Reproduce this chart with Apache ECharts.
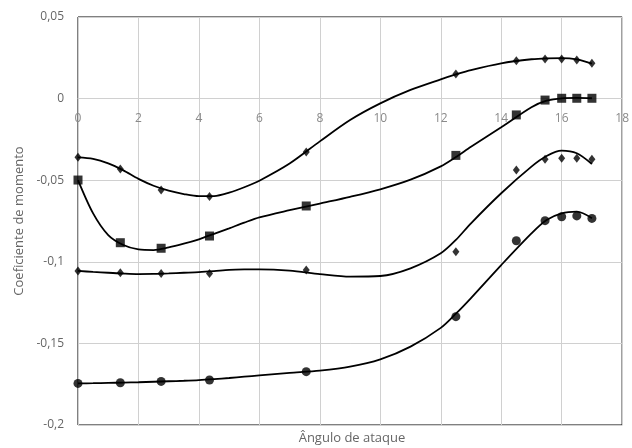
<!DOCTYPE html>
<html>
<head>
<meta charset="utf-8">
<script src="https://cdn.jsdelivr.net/npm/echarts@6/dist/echarts.min.js"></script>
<style>
  html, body { margin: 0; padding: 0; background: #fff; }
  #chart { width: 632px; height: 448px; }
</style>
</head>
<body>
<div id="chart"></div>
<script>
// ângulos medidos (pontos)
const angles = [0, 1.4, 2.75, 4.35, 7.55, 12.5, 14.5, 15.45, 16, 16.5, 17];
const cmDiamondTop = [-0.036, -0.0432, -0.056, -0.060, -0.0327, 0.0151, 0.0232, 0.0243, 0.0243, 0.0237, 0.0216];
const cmSquare = [-0.0499, -0.0883, -0.0917, -0.0842, -0.0658, -0.0348, -0.0100, -0.0009, 0.0002, 0.0002, 0.0002];
const cmDiamondMid = [-0.1056, -0.1067, -0.1071, -0.1071, -0.105, -0.0938, -0.0437, -0.0372, -0.0366, -0.0366, -0.0372];
const cmCircle = [-0.1745, -0.1741, -0.1733, -0.1724, -0.1673, -0.1336, -0.0871, -0.0748, -0.0724, -0.0719, -0.0734];

// linhas de tendência
const fitX = [0, 0.5, 1, 1.5, 2, 2.5, 3, 3.5, 4, 4.5, 5, 5.5, 6, 7, 8, 9, 10, 11, 12, 12.5, 13, 14, 15, 15.5, 16, 16.5, 17];
const fitDiamondTop = [-0.036, -0.0369, -0.0397, -0.044, -0.0492, -0.0534, -0.0564, -0.0585, -0.0598, -0.0597, -0.0576, -0.0543, -0.0503, -0.0398, -0.0262, -0.0131, -0.0029, 0.0053, 0.0118, 0.0148, 0.0175, 0.0216, 0.0241, 0.0247, 0.0248, 0.024, 0.0214];
const fitSquare = [-0.0499, -0.0703, -0.0836, -0.0897, -0.0924, -0.0928, -0.0912, -0.0889, -0.0862, -0.0829, -0.0795, -0.076, -0.0728, -0.0684, -0.0643, -0.0602, -0.0556, -0.0497, -0.0415, -0.0358, -0.0295, -0.0176, -0.0053, -0.0013, 0.0002, 0.0004, 0.0002];
const fitDiamondMid = [-0.1056, -0.1062, -0.1067, -0.1072, -0.1075, -0.1074, -0.1071, -0.1067, -0.1063, -0.1057, -0.105, -0.1047, -0.1046, -0.1054, -0.1075, -0.1091, -0.1087, -0.104, -0.0948, -0.0866, -0.0764, -0.058, -0.0417, -0.0352, -0.0319, -0.0335, -0.0401];
const fitCircle = [-0.1745, -0.1744, -0.1742, -0.174, -0.1738, -0.1735, -0.1732, -0.1729, -0.1725, -0.1719, -0.1712, -0.1704, -0.1696, -0.1681, -0.1667, -0.1643, -0.1598, -0.152, -0.1405, -0.1318, -0.1222, -0.102, -0.0826, -0.0744, -0.0703, -0.0693, -0.0733];

const xTitle = 'Ângulo de ataque';
const yTitle = 'Coeficiente de momento';

const pair = (xs, ys) => xs.map((x, i) => [x, ys[i]]);
const fmt = v => String(+v.toFixed(2)).replace('.', ',');

const chart = echarts.init(document.getElementById('chart'));

function fitSeries(ys) {
  return {
    type: 'line',
    data: pair(fitX, ys),
    smooth: 0.3,
    showSymbol: false,
    lineStyle: { color: '#000', width: 1.8 },
    z: 2,
    silent: true
  };
}

function pointSeries(ys, symbol, size) {
  return {
    type: 'scatter',
    data: pair(angles, ys),
    symbol: symbol,
    symbolSize: size,
    itemStyle: { color: '#000' },
    z: 3
  };
}

// grid: top 17, altura 408 -> y=0 fica a 81.6px do topo, 326.4px acima da base
const option = {
  animation: false,
  backgroundColor: '#fff',
  textStyle: { fontFamily: 'Open Sans' },
  grid: {
    left: 78, right: 5, top: 17, bottom: 23,
    show: true, borderColor: '#000', borderWidth: 1
  },
  xAxis: {
    type: 'value',
    min: 0, max: 18, interval: 2,
    offset: -326.4,
    axisLine: { onZero: false, show: true, lineStyle: { color: '#d0d0d0' } },
    axisTick: { show: false },
    axisLabel: { color: '#8a8a8a', fontSize: 12, margin: 14 },
    splitLine: { lineStyle: { color: '#d0d0d0' } }
  },
  yAxis: {
    type: 'value',
    min: -0.2, max: 0.05, interval: 0.05,
    name: yTitle,
    nameLocation: 'middle',
    nameGap: 50,
    nameTextStyle: { color: '#666', fontSize: 13 },
    axisLine: { show: false },
    axisTick: { show: false },
    axisLabel: { color: '#666', fontSize: 12, margin: 14, formatter: fmt },
    splitLine: { lineStyle: { color: '#d0d0d0' } }
  },
  graphic: [{
    type: 'text',
    x: 352,
    y: 438,
    style: {
      text: xTitle, fill: '#666', font: '13px "Open Sans"',
      textAlign: 'center', textVerticalAlign: 'middle'
    }
  }],
  series: [
    fitSeries(fitDiamondTop),
    fitSeries(fitSquare),
    fitSeries(fitDiamondMid),
    fitSeries(fitCircle),
    pointSeries(cmDiamondTop, 'diamond', [7, 9]),
    pointSeries(cmSquare, 'rect', 9),
    pointSeries(cmDiamondMid, 'diamond', [7, 9]),
    pointSeries(cmCircle, 'circle', 9)
  ]
};

chart.setOption(option);
</script>
</body>
</html>
